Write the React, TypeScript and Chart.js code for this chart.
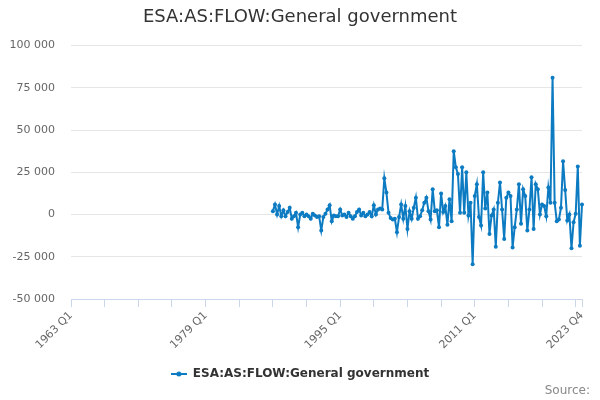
import React, { useEffect, useRef } from 'react';
import { Chart, registerables } from 'chart.js';

Chart.register(...registerables);

const TITLE = 'ESA:AS:FLOW:General government';
const SERIES_NAME = 'ESA:AS:FLOW:General government';
const SOURCE_TEXT = 'Source:';

// quarterly categories 1963 Q1 .. 2023 Q4
const FIRST_YEAR = 1963;
const LAST_YEAR = 2023;
const QUARTERS = ['Q1', 'Q2', 'Q3', 'Q4'];
const periods: string[] = [];
for (let y = FIRST_YEAR; y <= LAST_YEAR; y++) for (const q of QUARTERS) periods.push(`${y} ${q}`);

// the series only has values from this quarter on
const SERIES_START = '1987 Q1';

const flow1987to1994 = [
  2000, 6000, 0, 5000, -1000, 2500, -1000, 1500,
  4000, -2500, -1000, 1000, -7500, 0, 1000, -1000,
  0, -1000, -2500, 500, -500, -1500, -1000, -9500,
  -1500, 500, 3000, 5500, -4000, -500, -1000, -1000,
];
const flow1995to2004 = [
  3000, -500, 0, -1500, 1000, -1000, -2500, -1000,
  1500, 3000, -500, 1000, -1000, 0, 1500, -1000,
  5500, 0, 3000, 3500, 3000, 21500, 13000, 1000,
  -2000, -3000, -2500, -10500, -1500, 6000, -2500, 5000,
  -8500, 2000, -2500, 4000, 10000, -2500, -1000, 2500,
];
const flow2005to2014 = [
  7000, 10000, 2000, -3000, 15000, 2000, 2500, -7500,
  12500, 1500, 5000, -6000, 9000, -4000, 37500, 28000,
  24000, 1000, 28000, 1000, 25000, -500, 7000, -29500,
  11000, 18000, -1500, -6500, 25000, 3500, 13000, -11500,
  -500, 3000, -19000, 7000, 19000, 3000, -14500, 10000,
];
const flow2015to2023 = [
  13000, 11000, -19500, -7500, 3000, 18000, -5500, 15000,
  11000, -9500, 3000, 22000, -8500, 18000, 15000, 0,
  6000, 5000, -1000, 16000, 7000, 81000, 7000, -4000,
  -3000, 4000, 31500, 14500, -3500, 0, -20000, -4500,
  500, 28500, -18500, 6000,
];

const Y_MIN = -50000;
const Y_MAX = 100000;
const Y_STEP = 25000;
const TICK_EVERY = 16; // quarters between tick marks
const LABEL_EVERY = 64; // quarters between labels

const BLUE = '#0c7bc2';
const FONT = '"DejaVu Sans", Verdana, sans-serif';

const fmt = (v: number) => {
  const s = Math.abs(v).toString().replace(/\B(?=(\d{3})+(?!\d))/g, ' ');
  return (v < 0 ? '-' : '') + s;
};

function legendSymbol() {
  const c = document.createElement('canvas');
  c.width = 16;
  c.height = 8;
  const ctx = c.getContext('2d')!;
  ctx.strokeStyle = BLUE;
  ctx.lineWidth = 2;
  ctx.beginPath();
  ctx.moveTo(0, 4);
  ctx.lineTo(16, 4);
  ctx.stroke();
  ctx.fillStyle = BLUE;
  ctx.beginPath();
  ctx.arc(8, 4, 2.5, 0, Math.PI * 2);
  ctx.fill();
  return c;
}

export default function App() {
  const ref = useRef<HTMLCanvasElement>(null);
  const chartRef = useRef<Chart | null>(null);

  useEffect(() => {
    const canvas = ref.current;
    if (!canvas) return;
    chartRef.current?.destroy();

    const values = [...flow1987to1994, ...flow1995to2004, ...flow2005to2014, ...flow2015to2023];
    const startIdx = periods.indexOf(SERIES_START);
    const data = periods.map((_, i) => (i >= startIdx ? values[i - startIdx] ?? null : null));
    const last = periods.length - 1;
    const symbol = legendSymbol();

    chartRef.current = new Chart(canvas, {
      type: 'line',
      data: {
        labels: periods,
        datasets: [{
          label: SERIES_NAME,
          data,
          borderColor: BLUE,
          backgroundColor: BLUE,
          borderWidth: 2,
          pointRadius: 2,
          pointBorderWidth: 0,
          pointStyle: 'circle',
          tension: 0,
        }],
      },
      options: {
        responsive: true,
        maintainAspectRatio: false,
        animation: false,
        layout: { padding: { left: 0, right: 0, top: 0, bottom: 10 } },
        scales: {
          x: {
            type: 'category',
            offset: false,
            border: { display: true, color: '#ccd6eb', width: 1 },
            grid: {
              drawOnChartArea: false,
              drawTicks: true,
              tickLength: 8,
              tickWidth: 1,
              tickColor: (c: any) => (c.index % TICK_EVERY === 0 || c.index === last ? '#ccd6eb' : 'rgba(0,0,0,0)'),
            },
            ticks: {
              autoSkip: false,
              maxRotation: 45,
              minRotation: 45,
              padding: 2,
              color: '#666666',
              font: { family: FONT, size: 11 },
              callback: (_v: any, i: number) => (i % LABEL_EVERY === 0 || i === last ? periods[i] : ''),
            },
            afterFit: (s: any) => { s.height = 59; },
          },
          y: {
            min: Y_MIN,
            max: Y_MAX,
            border: { display: false },
            grid: { color: '#e6e6e6', drawTicks: false },
            ticks: {
              stepSize: Y_STEP,
              padding: 16,
              color: '#666666',
              font: { family: FONT, size: 11 },
              callback: (v: any) => fmt(Number(v)),
            },
            afterFit: (s: any) => { s.width = 71; },
          },
          // empty right-hand axis: only keeps a margin so title and legend stay centred on the page
          gutter: {
            type: 'linear',
            position: 'right',
            display: true,
            border: { display: false },
            grid: { display: false },
            ticks: { display: false },
            afterFit: (s: any) => { s.width = 18; },
          },
        },
        plugins: {
          title: {
            display: true,
            text: TITLE,
            color: '#333333',
            font: { family: FONT, size: 18, weight: 'normal' },
            padding: { top: 7, bottom: 17 },
          },
          legend: {
            display: true,
            position: 'bottom',
            labels: {
              usePointStyle: true,
              pointStyle: symbol as any,
              pointStyleWidth: 16,
              color: '#333333',
              font: { family: FONT, size: 12, weight: 'bold' },
              padding: 10,
              generateLabels: () => [{
                text: SERIES_NAME,
                fillStyle: BLUE,
                strokeStyle: BLUE,
                lineWidth: 0,
                pointStyle: symbol,
                hidden: false,
                datasetIndex: 0,
                fontColor: '#333333',
              }],
            },
          },
          tooltip: { enabled: false },
        },
      },
      plugins: [{
        id: 'sourceText',
        afterDraw(chart) {
          const { ctx } = chart;
          ctx.save();
          ctx.font = `12px ${FONT}`;
          ctx.fillStyle = '#888888';
          ctx.textAlign = 'right';
          ctx.textBaseline = 'middle';
          ctx.fillText(SOURCE_TEXT, 590, 391);
          ctx.restore();
        },
      }],
    });

    return () => { chartRef.current?.destroy(); };
  }, []);

  return (
    <div style={{ position: 'absolute', left: 0, top: 0, width: 600, height: 400, background: '#fff' }}>
      <canvas ref={ref} />
    </div>
  );
}
